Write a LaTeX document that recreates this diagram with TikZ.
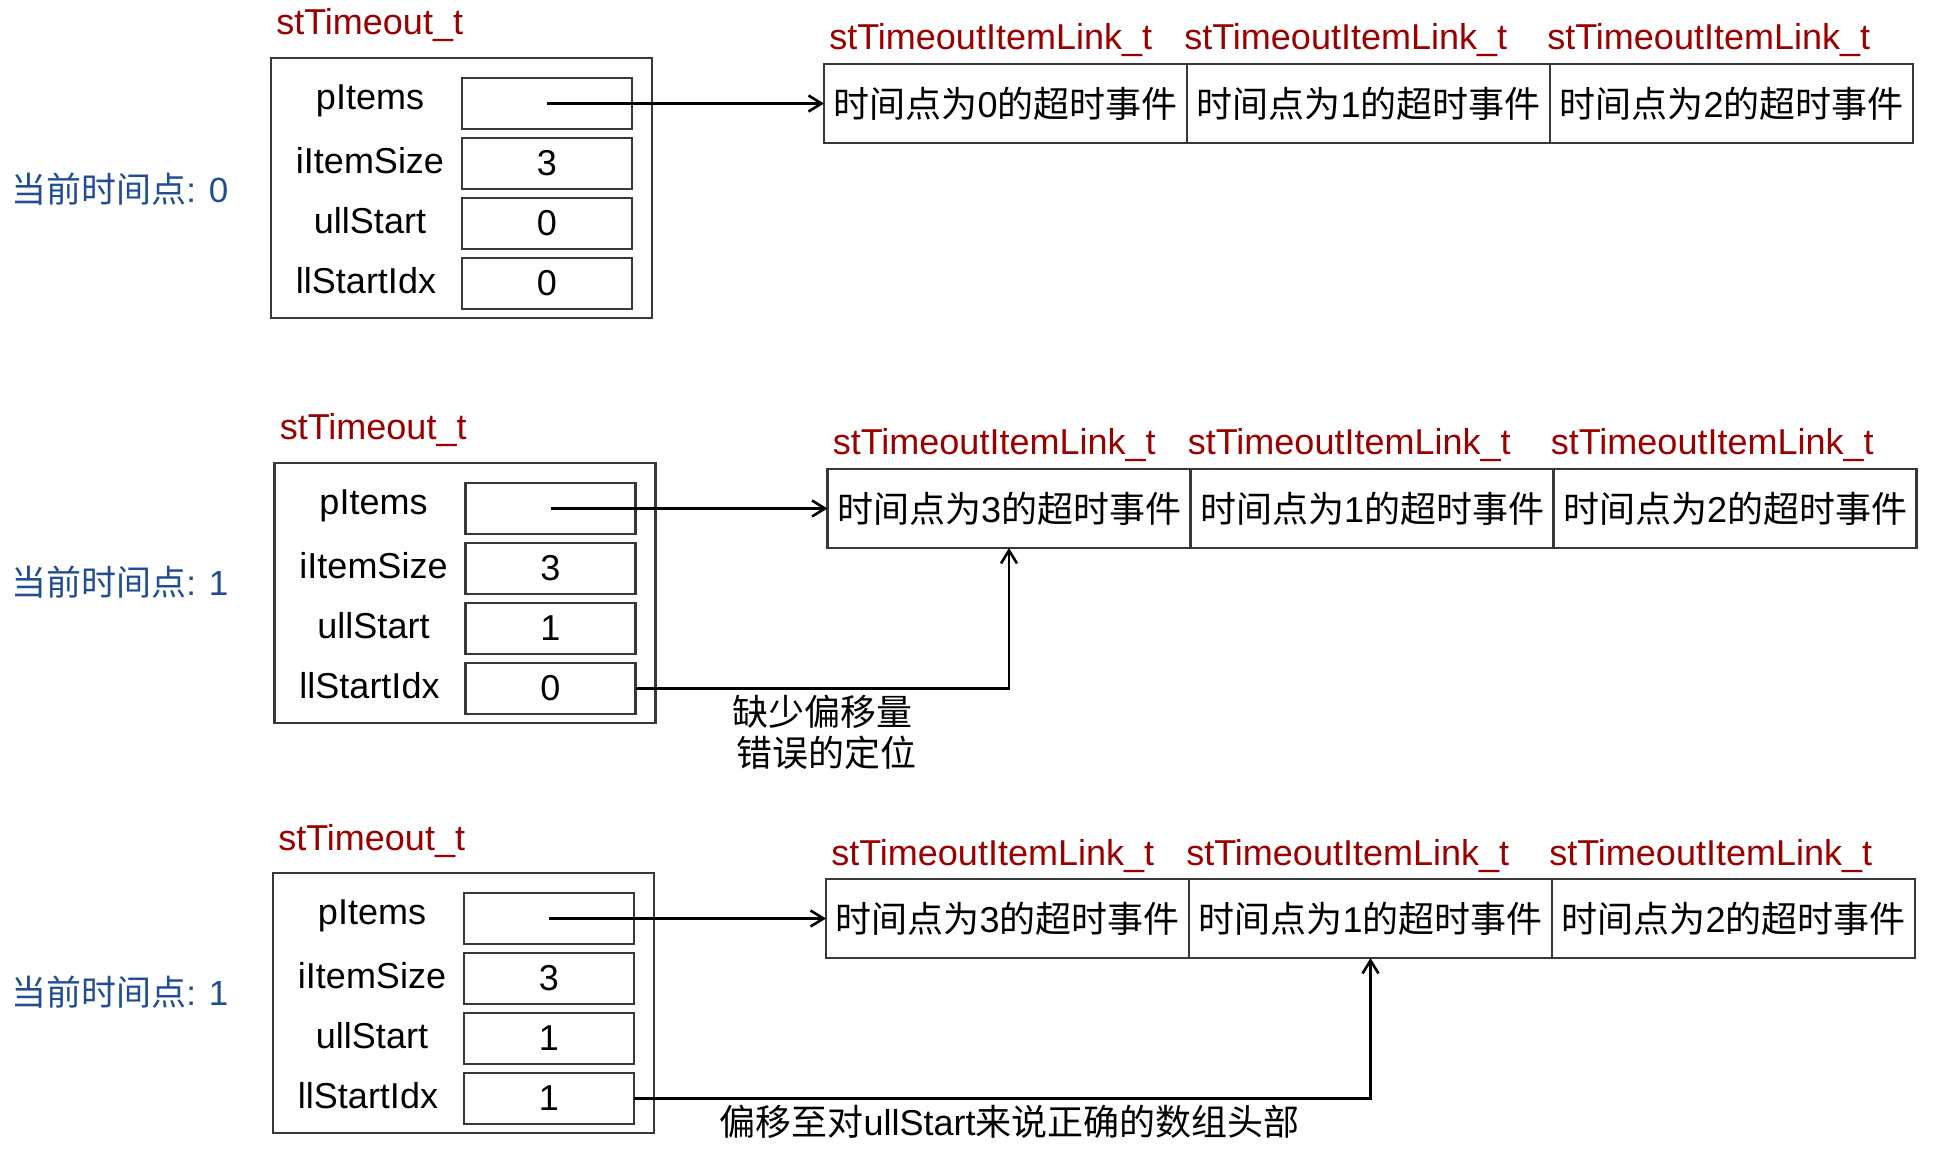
\documentclass[tikz,border=0pt]{standalone}
\usepackage{fontspec}
\setmainfont{Liberation Sans}
\newfontfamily\cjk{Noto Sans CJK SC}
\newcommand{\zh}[1]{{\cjk #1}}
\usetikzlibrary{positioning, arrows.meta}
\definecolor{tiporojo}{RGB}{153,0,0}
\definecolor{tiempoazul}{RGB}{33,78,145}
\definecolor{borde}{RGB}{56,56,56}
\tikzset{
	->, % Hace que los arcos sean dirigidos
	>={Straight Barb[length=6.5pt,width=8pt]}, % Punta abierta de las flechas
	struct/.style={draw=borde, line width=1.2pt, minimum width=190.5pt, minimum height=130pt, inner sep=0pt, outer sep=0pt}, % Caja de la estructura
	field/.style={draw=borde, line width=1.2pt, minimum width=85pt, minimum height=25.5pt, inner sep=0pt, outer sep=0pt}, % Casilla de un campo
	fieldname/.style={text width=92pt, align=center, inner sep=0pt, outer sep=0pt, yshift=1.5pt}, % Nombre del campo
	cell/.style={draw=borde, line width=1.2pt, minimum width=181.5pt, minimum height=39.5pt, inner sep=0pt, outer sep=0pt}, % Casilla del arreglo
	typename/.style={text=tiporojo, inner sep=0pt}, % Nombre del tipo
	timelabel/.style={text=tiempoazul, inner sep=0pt, font=\fontsize{17.5}{20.5}\selectfont}, % Instante actual
	note/.style={align=center, inner sep=2.5pt} % Texto bajo la flecha
}

\begin{document}
\fontsize{18}{20.5}\selectfont
\begin{tikzpicture}[x=0.5pt, y=-0.5pt, line width=1.3pt]
	\useasboundingbox (0,0) rectangle (1936,1159);

	\node[timelabel, anchor=west] (time1) at (10,189) {\zh{当前时间点}: 0};
	\node[struct] (s1) at (461.5,188) {};
	\node[typename, above right=11.5pt and 2pt of s1.north west, anchor=base west] (t1) {stTimeout\_t};
	\node[field, below left=10pt and 10pt of s1.north east] (f1p) {};
	\node[field, below=4.5pt of f1p] (f1s) {3};
	\node[field, below=4.5pt of f1s] (f1u) {0};
	\node[field, below=4.5pt of f1u] (f1i) {0};
	\node[fieldname, left=0pt of f1p] (n1p) {pItems};
	\node[fieldname, left=0pt of f1s] (n1s) {iItemSize};
	\node[fieldname, left=0pt of f1u] (n1u) {ullStart};
	\node[fieldname, left=2pt of f1i] (n1i) {llStartIdx};
	\node[cell, right=96pt of f1p] (c1a) {\zh{时间点为}0\zh{的超时事件}};
	\node[cell, right=0pt of c1a] (c1b) {\zh{时间点为}1\zh{的超时事件}};
	\node[cell, right=0pt of c1b] (c1c) {\zh{时间点为}2\zh{的超时事件}};
	\node[typename, above right=7pt and 2pt of c1a.north west, anchor=base west] (l1a) {stTimeoutItemLink\_t};
	\node[typename, above right=7pt and -2pt of c1b.north west, anchor=base west] (l1b) {stTimeoutItemLink\_t};
	\node[typename, above right=7pt and -2pt of c1c.north west, anchor=base west] (l1c) {stTimeoutItemLink\_t};
	\draw (f1p.center) -- (c1a.west);

	\node[timelabel, anchor=west] (time2) at (10,582) {\zh{当前时间点}: 1};
	\node[struct] (s2) at (465,593) {};
	\node[typename, above right=11.5pt and 2pt of s2.north west, anchor=base west] (t2) {stTimeout\_t};
	\node[field, below left=10pt and 10pt of s2.north east] (f2p) {};
	\node[field, below=4.5pt of f2p] (f2s) {3};
	\node[field, below=4.5pt of f2s] (f2u) {1};
	\node[field, below=4.5pt of f2u] (f2i) {0};
	\node[fieldname, left=0pt of f2p] (n2p) {pItems};
	\node[fieldname, left=0pt of f2s] (n2s) {iItemSize};
	\node[fieldname, left=0pt of f2u] (n2u) {ullStart};
	\node[fieldname, left=2pt of f2i] (n2i) {llStartIdx};
	\node[cell, right=96pt of f2p] (c2a) {\zh{时间点为}3\zh{的超时事件}};
	\node[cell, right=0pt of c2a] (c2b) {\zh{时间点为}1\zh{的超时事件}};
	\node[cell, right=0pt of c2b] (c2c) {\zh{时间点为}2\zh{的超时事件}};
	\node[typename, above right=7pt and 2pt of c2a.north west, anchor=base west] (l2a) {stTimeoutItemLink\_t};
	\node[typename, above right=7pt and -2pt of c2b.north west, anchor=base west] (l2b) {stTimeoutItemLink\_t};
	\node[typename, above right=7pt and -2pt of c2c.north west, anchor=base west] (l2c) {stTimeoutItemLink\_t};
	\draw (f2p.center) -- (c2a.west);
	\draw (f2i.east) -| node[note, pos=0.25, below] (m2) {\zh{缺少偏移量}\\\hspace*{4pt}\zh{错误的定位}} (c2a.south);

	\node[timelabel, anchor=west] (time3) at (10,992) {\zh{当前时间点}: 1};
	\node[struct] (s3) at (463.5,1003) {};
	\node[typename, above right=11.5pt and 2pt of s3.north west, anchor=base west] (t3) {stTimeout\_t};
	\node[field, below left=10pt and 10pt of s3.north east] (f3p) {};
	\node[field, below=4.5pt of f3p] (f3s) {3};
	\node[field, below=4.5pt of f3s] (f3u) {1};
	\node[field, below=4.5pt of f3u] (f3i) {1};
	\node[fieldname, left=0pt of f3p] (n3p) {pItems};
	\node[fieldname, left=0pt of f3s] (n3s) {iItemSize};
	\node[fieldname, left=0pt of f3u] (n3u) {ullStart};
	\node[fieldname, left=2pt of f3i] (n3i) {llStartIdx};
	\node[cell, right=96pt of f3p] (c3a) {\zh{时间点为}3\zh{的超时事件}};
	\node[cell, right=0pt of c3a] (c3b) {\zh{时间点为}1\zh{的超时事件}};
	\node[cell, right=0pt of c3b] (c3c) {\zh{时间点为}2\zh{的超时事件}};
	\node[typename, above right=7pt and 2pt of c3a.north west, anchor=base west] (l3a) {stTimeoutItemLink\_t};
	\node[typename, above right=7pt and -2pt of c3b.north west, anchor=base west] (l3b) {stTimeoutItemLink\_t};
	\node[typename, above right=7pt and -2pt of c3c.north west, anchor=base west] (l3c) {stTimeoutItemLink\_t};
	\draw (f3p.center) -- (c3a.west);
	\draw (f3i.east) -| node[note, pos=0.255, below] (m3) {\zh{偏移至对}ullStart\zh{来说正确的数组头部}} (c3b.south);
\end{tikzpicture}
\end{document}
